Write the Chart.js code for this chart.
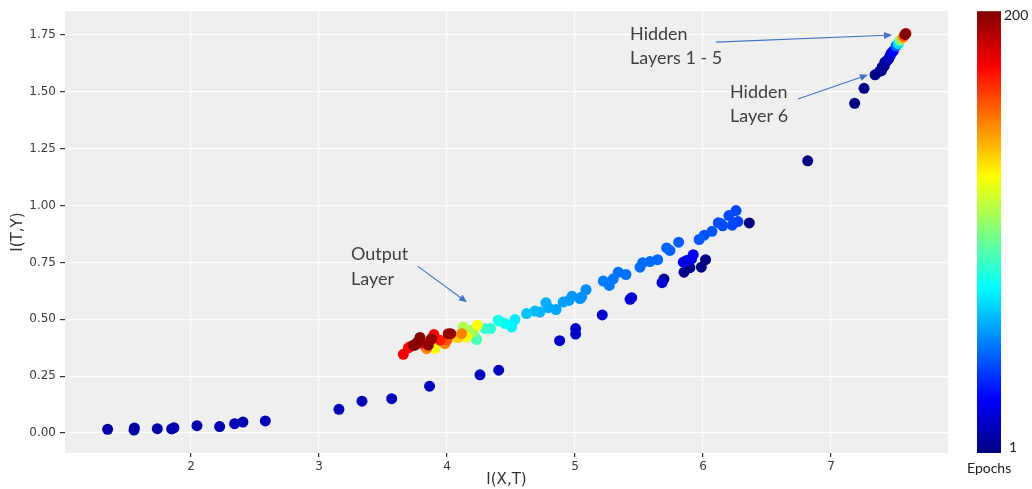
<!DOCTYPE html>
<html><head><meta charset="utf-8">
<script src="https://cdn.jsdelivr.net/npm/chart.js@4.4.0/dist/chart.umd.min.js"></script>
<style>html,body{margin:0;padding:0;background:#fff;overflow:hidden}#wrap{width:1032px;height:489px;position:relative}</style>
</head><body><div id="wrap"><canvas id="c" width="1032" height="489"></canvas></div>
<script>
// I(X,T) values
const ixt = [
 1.349,1.555,1.558,1.737,1.849,1.867,2.047,2.224,2.341,2.406,2.581,
 3.156,3.336,3.568,3.864,4.258,4.404,4.880,5.005,5.005,5.213,5.443,5.430,5.680,
 5.695,5.852,5.898,5.987,6.020,5.846,5.872,5.911,5.924,6.362,
 6.818,7.185,7.258,7.344,7.380,7.396,7.400,7.416,7.420,7.435,7.450,7.461,7.470,7.487,7.508,7.526,7.539,7.560,7.570,7.578,7.585,
 6.258,6.203,6.273,6.229,6.143,6.154,6.120,6.070,6.010,5.970,5.810,5.716,5.742,5.646,5.586,5.529,5.508,5.398,5.338,5.299,5.268,5.221,
 5.086,5.052,5.039,4.977,4.953,4.908,4.852,4.791,4.773,4.726,4.687,4.622,4.531,4.505,4.453,4.408,4.400,4.341,4.297,
 4.227,4.232,4.205,4.193,4.127,4.237,4.154,4.089,4.076,4.115,4.010,4.030,3.984,4.000,3.945,3.906,3.898,3.880,3.873,3.854,3.840,3.800,
 3.789,3.770,3.750,3.737,3.710,3.698,3.659
];
// I(T,Y) values
const ity = [
 0.016,0.013,0.022,0.019,0.018,0.023,0.032,0.028,0.041,0.048,0.053,
 0.104,0.140,0.151,0.206,0.256,0.276,0.406,0.459,0.435,0.519,0.595,0.588,0.661,
 0.677,0.707,0.727,0.729,0.762,0.751,0.759,0.766,0.784,0.924,
 1.197,1.450,1.516,1.575,1.590,1.595,1.610,1.614,1.630,1.636,1.645,1.658,1.670,1.680,1.702,1.712,1.727,1.738,1.745,1.753,1.757,
 0.978,0.956,0.930,0.914,0.920,0.911,0.925,0.887,0.870,0.851,0.839,0.814,0.803,0.762,0.754,0.749,0.729,0.697,0.707,0.678,0.649,0.668,
 0.630,0.598,0.591,0.601,0.583,0.576,0.543,0.551,0.573,0.532,0.536,0.525,0.499,0.466,0.481,0.493,0.496,0.459,0.459,
 0.415,0.411,0.444,0.452,0.466,0.474,0.422,0.420,0.420,0.437,0.437,0.437,0.393,0.410,0.408,0.371,0.433,0.415,0.411,0.386,0.371,0.395,
 0.420,0.400,0.386,0.386,0.379,0.374,0.346
];
// Epoch of each point
const epochs = [
 8,8,9,9,9,10,10,10,11,11,11,
 12,12,12,13,13,13,15,15,15,16,17,17,18,
 2,2,3,2,2,22,22,22,24,1,
 1,1,2,2,3,3,5,4,6,8,10,14,18,25,45,70,100,140,160,200,190,
 40,40,38,40,41,41,41,42,42,43,44,45,45,46,46,47,47,48,48,49,50,50,
 53,54,54,55,56,57,58,59,60,61,62,64,72,74,76,78,80,84,86,
 88,90,105,108,110,125,126,135,128,150,196,195,150,160,170,125,175,196,195,197,150,180,
 198,197,199,198,175,172,178
];
const xTickValues = [2,3,4,5,6,7];
const yTickValues = [0,0.25,0.5,0.75,1,1.25,1.5,1.75];
const epochRange = [1,200];
const annotations = [
 {lines:['Output','Layer'], at:[3.25,0.785], from:[3.773,0.733], to:[4.156,0.575]},
 {lines:['Hidden','Layers 1 - 5'], at:[5.43,1.754], from:[6.102,1.719], to:[7.477,1.75]},
 {lines:['Hidden','Layer 6'], at:[6.211,1.5], from:[6.742,1.469], to:[7.289,1.575]}
];

function clamp(v){return Math.max(0,Math.min(1,v));}
function jet(t){
  const r=clamp(Math.min(4*t-1.5,-4*t+4.5)), g=clamp(Math.min(4*t-0.5,-4*t+3.5)), b=clamp(Math.min(4*t+0.5,-4*t+2.5));
  return 'rgb('+Math.round(r*255)+','+Math.round(g*255)+','+Math.round(b*255)+')';
}
function epochColor(e){return jet((e-epochRange[0])/(epochRange[1]-epochRange[0]));}

const order = epochs.map((e,i)=>i).sort((a,b)=>epochs[a]-epochs[b]);
const pts = order.map(i=>({x:ixt[i],y:ity[i]}));
const cols = order.map(i=>epochColor(epochs[i]));

const panelBg = {
  id:'panelBg',
  beforeDraw(chart){
    const {ctx,chartArea:a}=chart;
    ctx.save();ctx.fillStyle='#efefef';ctx.fillRect(a.left,a.top,a.right-a.left,a.bottom-a.top);ctx.restore();
  }
};
const extras = {
  id:'extras',
  afterDraw(chart){
    const {ctx}=chart, xs=chart.scales.x, ys=chart.scales.y;
    ctx.save();
    annotations.forEach(an=>{
      ctx.font='18px Lato';ctx.fillStyle='#404040';ctx.textBaseline='middle';ctx.textAlign='left';
      const tx=xs.getPixelForValue(an.at[0]), ty=ys.getPixelForValue(an.at[1]);
      an.lines.forEach((l,k)=>ctx.fillText(l,tx,ty+k*24.5));
      const x1=xs.getPixelForValue(an.from[0]), y1=ys.getPixelForValue(an.from[1]);
      const x2=xs.getPixelForValue(an.to[0]), y2=ys.getPixelForValue(an.to[1]);
      const ang=Math.atan2(y2-y1,x2-x1);
      ctx.strokeStyle='#4472c4';ctx.fillStyle='#4472c4';ctx.lineWidth=1.1;
      ctx.beginPath();ctx.moveTo(x1,y1);ctx.lineTo(x2-6*Math.cos(ang),y2-6*Math.sin(ang));ctx.stroke();
      ctx.beginPath();ctx.moveTo(x2,y2);
      ctx.lineTo(x2-8*Math.cos(ang)+3.5*Math.sin(ang),y2-8*Math.sin(ang)-3.5*Math.cos(ang));
      ctx.lineTo(x2-8*Math.cos(ang)-3.5*Math.sin(ang),y2-8*Math.sin(ang)+3.5*Math.cos(ang));
      ctx.closePath();ctx.fill();
    });
    const cbL=977, cbR=1001, cbT=ys.top, cbB=ys.bottom;
    const grad=ctx.createLinearGradient(0,cbB,0,cbT);
    for(let i=0;i<=40;i++){grad.addColorStop(i/40,jet(i/40));}
    ctx.fillStyle=grad;ctx.fillRect(cbL,cbT,cbR-cbL,cbB-cbT);
    ctx.font='14px Lato';ctx.fillStyle='#222';ctx.textBaseline='middle';ctx.textAlign='left';
    ctx.fillText(String(epochRange[1]),1004,cbT+4);
    ctx.fillText(String(epochRange[0]),1009,cbB-6);
    ctx.fillText('Epochs',967,468);
    ctx.restore();
  }
};

new Chart(document.getElementById('c'),{
  type:'scatter',
  data:{datasets:[{data:pts,pointBackgroundColor:cols,pointBorderColor:cols,pointBorderWidth:0,pointRadius:5.5,pointHoverRadius:5.5}]},
  options:{
    responsive:false,animation:false,
    layout:{padding:{top:10,right:84,left:0,bottom:0}},
    plugins:{legend:{display:false},tooltip:{enabled:false}},
    scales:{
      x:{type:'linear',min:1.016,max:7.914,
        afterFit(s){s.height=36;},
        afterBuildTicks(s){s.ticks=xTickValues.map(v=>({value:v}));},
        ticks:{padding:3,color:'#3c3c3c',font:{family:'DejaVu Sans',size:12},callback:v=>String(v)},
        grid:{color:'#ffffff',lineWidth:1.2,tickLength:4,tickColor:'#333333'},
        border:{display:false},
        title:{display:true,text:'I(X,T)',color:'#333333',font:{family:'DejaVu Sans',size:15},padding:{top:0,bottom:0}}
      },
      y:{type:'linear',min:-0.088,max:1.855,
        afterFit(s){s.width=65;},
        afterBuildTicks(s){s.ticks=yTickValues.map(v=>({value:v}));},
        ticks:{padding:4,color:'#3c3c3c',font:{family:'DejaVu Sans',size:12},callback:v=>v.toFixed(2)},
        grid:{color:'#ffffff',lineWidth:1.2,tickLength:5,tickColor:'#333333'},
        border:{display:false},
        title:{display:true,text:'I(T,Y)',color:'#333333',font:{family:'DejaVu Sans',size:15},padding:{top:9,bottom:0}}
      }
    }
  },
  plugins:[panelBg,extras]
});
</script></body></html>
